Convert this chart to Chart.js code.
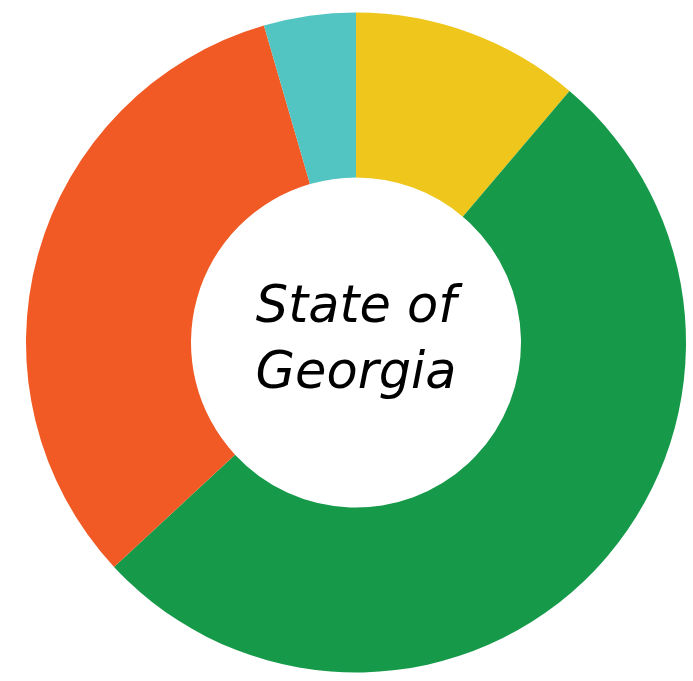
<!DOCTYPE html>
<html>
<head>
<meta charset="utf-8">
<script src="https://cdn.jsdelivr.net/npm/chart.js@4.4.1/dist/chart.umd.min.js"></script>
<style>
html,body{margin:0;padding:0;background:#fff;}
#wrap{width:693px;height:681px;position:relative;}
</style>
</head>
<body>
<div id="wrap"><canvas id="c"></canvas></div>
<script>
const categories = ["Yellow", "Green", "Orange", "Teal"];
const values = [11.2, 51.9, 32.4, 4.5];
const colors = ["#EEC61C", "#169A4A", "#F15A24", "#52C4C2"];
const centerLines = ["State of", "Georgia"];

const centerText = {
  id: 'centerText',
  afterDraw(chart) {
    const meta = chart.getDatasetMeta(0);
    const arc = meta.data[0];
    const ctx = chart.ctx;
    ctx.save();
    ctx.fillStyle = '#000';
    ctx.textAlign = 'center';
    ctx.textBaseline = 'alphabetic';
    ctx.font = 'oblique 400 51px "DejaVu Sans"';
    ctx.fillText(centerLines[0], arc.x, arc.y - 20.5);
    ctx.fillText(centerLines[1], arc.x, arc.y + 45.5);
    ctx.restore();
  }
};

new Chart(document.getElementById('c'), {
  type: 'doughnut',
  data: {
    labels: categories,
    datasets: [{
      data: values,
      backgroundColor: colors,
      borderWidth: 0,
      hoverOffset: 0
    }]
  },
  options: {
    responsive: true,
    maintainAspectRatio: false,
    animation: false,
    cutout: '50%',
    layout: { padding: { left: 26, right: 7, top: 12.5, bottom: 8.5 } },
    plugins: { legend: { display: false }, tooltip: { enabled: false } }
  },
  plugins: [centerText]
});
</script>
</body>
</html>
